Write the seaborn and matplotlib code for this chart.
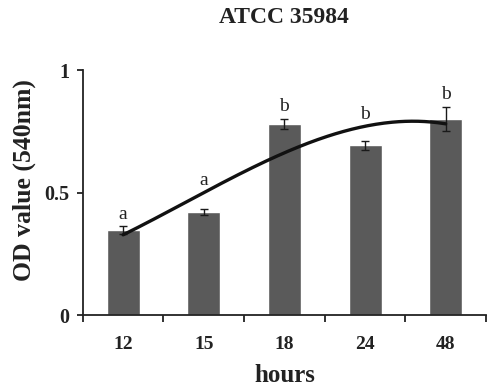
"""OD-Werte ATCC 35984 über die Zeit (Balken + Polynom-Trendlinie)."""

import matplotlib
matplotlib.use("Agg")
import matplotlib.pyplot as plt
import numpy as np
import pandas as pd
import seaborn as sns

hours = ["12", "15", "18", "24", "48"]
od_mean = [0.347, 0.421, 0.780, 0.692, 0.800]
od_err = [0.015, 0.013, 0.022, 0.020, 0.050]
groups = ["a", "a", "b", "b", "b"]

sns.set_style("white")
plt.rcParams["font.family"] = ["Liberation Serif", "DejaVu Serif"]

df = pd.DataFrame({"hours": hours, "od": od_mean, "err": od_err})

fig = plt.figure(figsize=(4.87, 3.87), dpi=100)
ax = fig.add_axes([0.170, 0.186, 0.828, 0.633])

sns.barplot(data=df, x="hours", y="od", color="#5a5a5a", saturation=1,
            width=0.41, errorbar=None, ax=ax)
pos = np.arange(len(hours))
ax.errorbar(pos, df["od"], yerr=df["err"], fmt="none", ecolor="#1a1a1a",
            elinewidth=1.0, capsize=3, capthick=1.0, zorder=3)

# Excel-artige Polynom-Trendlinie 3. Ordnung
coef = np.polyfit(pos, df["od"], 3)
xs = np.linspace(0, len(hours) - 1, 200)
fit = np.polyval(coef, xs)
ax.plot(xs, fit, color="#111111", linewidth=2.4, solid_capstyle="round", zorder=4)

fit_at = np.polyval(coef, pos)
for i, g in enumerate(groups):
    y = max(od_mean[i] + od_err[i], fit_at[i]) + 0.05
    ax.text(i, y, g, ha="center", va="center", fontsize=14, color="#222222")

ax.set_xlim(-0.5, len(hours) - 0.5)
ax.set_ylim(0, 1)
ax.set_yticks([0, 0.5, 1])
ax.set_yticklabels(["0", "0.5", "1"])
ax.set_xticks(np.arange(-0.5, len(hours), 1.0), minor=False)
ax.set_xticklabels([])
ax.set_xticks(pos, minor=True)
ax.set_xticklabels(hours, minor=True)
ax.tick_params(axis="x", which="major", bottom=True, direction="out", length=5,
               width=1.3, color="#222222")
ax.tick_params(axis="x", which="minor", bottom=True, length=0, pad=15, labelsize=14)
ax.tick_params(axis="y", left=True, direction="out", length=4, width=1.3,
               color="#222222", labelsize=14.5, pad=6)
for lab in ax.get_xticklabels(minor=True) + ax.get_yticklabels():
    lab.set_fontweight("bold")
    lab.set_color("#222222")

for s in ["top", "right"]:
    ax.spines[s].set_visible(False)
for s in ["left", "bottom"]:
    ax.spines[s].set_color("#222222")
    ax.spines[s].set_linewidth(1.3)

ax.set_xlabel("hours", fontsize=18, fontweight="bold", color="#222222", labelpad=8)
ax.set_ylabel("OD value (540nm)", fontsize=18.5, fontweight="bold", color="#222222")
ax.yaxis.set_label_coords(-0.115, 0.55)
ax.set_title("ATCC 35984", fontsize=17, fontweight="bold", color="#222222", pad=34)

fig.savefig("out.png", dpi=100)
